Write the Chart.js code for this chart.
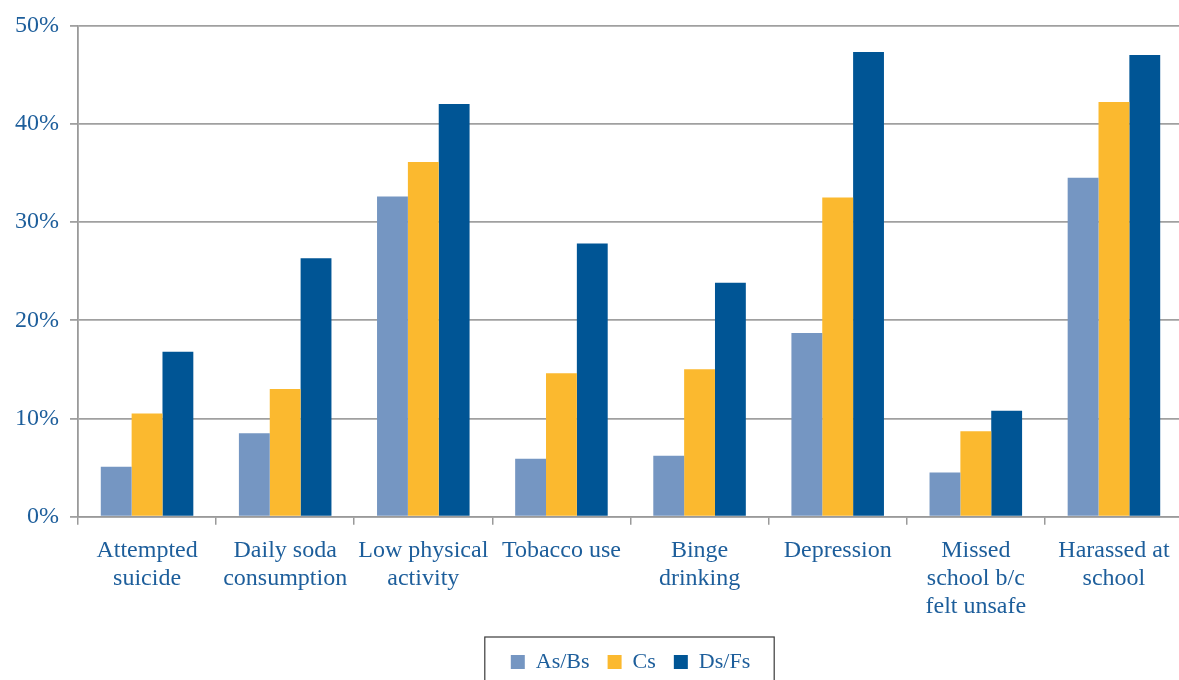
<!DOCTYPE html>
<html>
<head>
<meta charset="utf-8">
<script src="https://cdn.jsdelivr.net/npm/chart.js@4.4.1/dist/chart.umd.min.js"></script>
<style>
  html, body { margin: 0; padding: 0; background: #fff; overflow: hidden; }
  #wrap { width: 1183px; height: 680px; }
</style>
</head>
<body>
<div id="wrap"><canvas id="gradeChart"></canvas></div>
<script>
// Categories and values (percent)
const categories = [
    ['Attempted', 'suicide'],
    ['Daily soda', 'consumption'],
    ['Low physical', 'activity'],
    ['Tobacco use'],
    ['Binge', 'drinking'],
    ['Depression'],
    ['Missed', 'school b/c', 'felt unsafe'],
    ['Harassed at', 'school']
];
const seriesNames = ['As/Bs', 'Cs', 'Ds/Fs'];
const asBs = [5.1, 8.5, 32.6, 5.9, 6.2, 18.7, 4.5, 34.5];
const cs   = [10.5, 13.0, 36.1, 14.6, 15.0, 32.5, 8.7, 42.2];
const dsFs = [16.8, 26.3, 42.0, 27.8, 23.8, 47.3, 10.8, 47.0];
const yTicks = [0, 10, 20, 30, 40, 50];

const colors = ['#7596c2', '#fbb92f', '#005595'];
const textColor = '#1d5e9b';
const serif = '"Liberation Serif", "DejaVu Serif", serif';

// Draw a frame round the legend items
const legendBox = {
    id: 'legendBox',
    afterDraw(chart) {
        const legend = chart.legend;
        if (!legend || !legend.legendHitBoxes.length) return;
        const boxes = legend.legendHitBoxes;
        const left = Math.min(...boxes.map(b => b.left)) - 26;
        const right = Math.max(...boxes.map(b => b.left + b.width)) + 24;
        const top = Math.min(...boxes.map(b => b.top)) - 14;
        const ctx = chart.ctx;
        ctx.save();
        ctx.strokeStyle = '#3a3a3a';
        ctx.lineWidth = 1.2;
        ctx.strokeRect(left, top, right - left, chart.height - top + 10);
        ctx.restore();
    }
};

let ctx = document.getElementById('gradeChart').getContext('2d');
let gradeChart = new Chart(ctx, {
    type: 'bar',
    data: {
        labels: categories,
        datasets: [asBs, cs, dsFs].map((values, i) => ({
            label: seriesNames[i],
            data: values,
            backgroundColor: colors[i],
            borderWidth: 0,
            barPercentage: 1.0,
            categoryPercentage: 0.67
        }))
    },
    options: {
        responsive: true,
        maintainAspectRatio: false,
        animation: false,
        layout: {
            padding: { top: 3, left: 4, right: 0, bottom: 5 }
        },
        scales: {
            x: {
                grid: {
                    display: true,
                    drawOnChartArea: false,
                    drawTicks: true,
                    tickLength: 8,
                    color: '#9a9a9a',
                    lineWidth: 1.5
                },
                border: { display: true, color: '#9a9a9a', width: 1.5 },
                ticks: {
                    color: textColor,
                    font: { family: serif, size: 24, lineHeight: 1.17 },
                    padding: 12,
                    maxRotation: 0,
                    autoSkip: false
                }
            },
            y: {
                min: 0,
                max: 50,
                afterBuildTicks: function(axis) {
                    axis.ticks = yTicks.map(v => ({ value: v }));
                },
                grid: {
                    color: '#a0a0a0',
                    lineWidth: 1.8,
                    tickLength: 8
                },
                border: { display: true, color: '#9a9a9a', width: 1.8 },
                ticks: {
                    color: textColor,
                    font: { family: serif, size: 24 },
                    padding: 11,
                    callback: function(value) {
                        return value + '%';
                    }
                }
            }
        },
        plugins: {
            legend: {
                position: 'bottom',
                fullSize: false,
                maxHeight: 42,
                labels: {
                    color: textColor,
                    font: { family: serif, size: 22 },
                    boxWidth: 14,
                    boxHeight: 14,
                    padding: 18
                }
            },
            tooltip: { enabled: false }
        }
    },
    plugins: [legendBox]
});
</script>
</body>
</html>
